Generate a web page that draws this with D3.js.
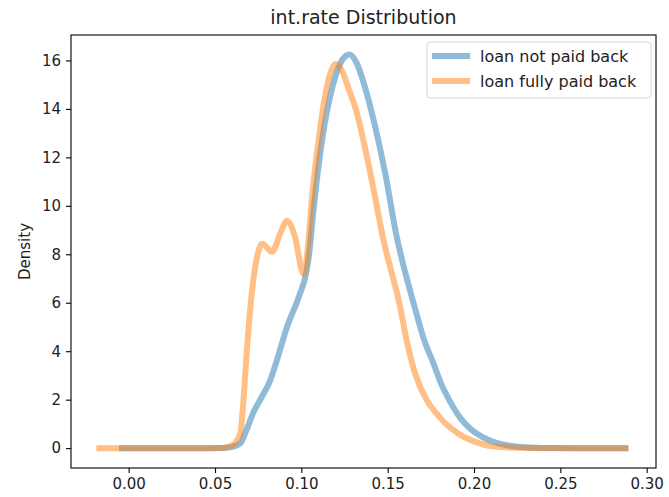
<!DOCTYPE html>
<html>
<head>
<meta charset="utf-8">
<script src="https://cdn.jsdelivr.net/npm/d3@7"></script>
<style>
  html, body { margin: 0; padding: 0; background: #fff; }
  svg text { font-family: "DejaVu Sans", sans-serif; fill: #222; }
</style>
</head>
<body>
<svg id="chart" width="669" height="497"></svg>
<script>
// ---- data ----
const title = "int.rate Distribution";
const yLabel = "Density";
const seriesNames = ["loan not paid back", "loan fully paid back"];
const seriesColors = ["#1f77b4", "#ff7f0e"];
const xTicks = [0.00, 0.05, 0.10, 0.15, 0.20, 0.25, 0.30];
const yTicks = [0, 2, 4, 6, 8, 10, 12, 14, 16];

const notPaidX = [-0.0056, 0.02, 0.045, 0.055, 0.060, 0.0647, 0.068, 0.072, 0.077, 0.082, 0.087, 0.0917, 0.0985, 0.103, 0.1045, 0.107, 0.112, 0.118, 0.1235, 0.1279, 0.132, 0.136, 0.140, 0.1486, 0.1553, 0.1607, 0.1659, 0.1707, 0.1765, 0.1810, 0.1857, 0.1920, 0.1977, 0.2050, 0.2112, 0.2190, 0.2266, 0.2400, 0.2600, 0.2894];
const notPaidY = [0, 0, 0, 0.005, 0.05, 0.2, 0.7, 1.44, 2.1, 2.8, 3.9, 5.0, 6.24, 7.3, 8.0, 9.8, 12.7, 14.9, 16.0, 16.25, 15.9, 15.1, 14.07, 11.33, 8.7, 7.1, 5.75, 4.55, 3.5, 2.65, 1.98, 1.25, 0.81, 0.45, 0.26, 0.12, 0.05, 0.01, 0, 0];

const paidX = [-0.0187, 0.02, 0.045, 0.054, 0.0575, 0.0615, 0.0647, 0.0665, 0.0686, 0.071, 0.0744, 0.0773, 0.083, 0.088, 0.0917, 0.096, 0.1013, 0.1042, 0.106, 0.110, 0.113, 0.1165, 0.1197, 0.124, 0.1275, 0.1312, 0.140, 0.1476, 0.1572, 0.161, 0.1659, 0.1726, 0.1780, 0.1823, 0.1880, 0.1938, 0.2000, 0.2073, 0.2150, 0.2226, 0.2400, 0.2600, 0.2894];
const paidY = [0, 0, 0, 0.01, 0.05, 0.2, 0.62, 2.0, 4.18, 6.2, 7.9, 8.44, 8.1, 8.9, 9.37, 8.8, 7.2, 8.58, 10.2, 12.7, 14.2, 15.4, 15.85, 15.5, 14.8, 14.07, 11.33, 8.58, 5.83, 4.45, 3.08, 1.98, 1.45, 1.1, 0.75, 0.47, 0.28, 0.12, 0.05, 0.02, 0, 0, 0];

// ---- layout ----
const svg = d3.select("#chart");
const M = { left: 71, right: 656, top: 35, bottom: 468 };

const x = d3.scaleLinear().domain([-0.0334, 0.3054]).range([M.left, M.right]);
const y = d3.scaleLinear().domain([-0.82, 17.05]).range([M.bottom, M.top]);

const series = [
  { name: seriesNames[0], color: seriesColors[0], xs: notPaidX, ys: notPaidY },
  { name: seriesNames[1], color: seriesColors[1], xs: paidX, ys: paidY }
];

const line = d3.line()
  .x(d => x(d[0]))
  .y(d => y(d[1]))
  .curve(d3.curveMonotoneX);

const plot = svg.append("g");
series.forEach(s => {
  const pts = s.xs.map((v, i) => [v, s.ys[i]]);
  plot.append("path")
    .attr("d", line(pts))
    .attr("fill", "none")
    .attr("stroke", s.color)
    .attr("stroke-opacity", 0.5)
    .attr("stroke-width", 6)
    .attr("stroke-linejoin", "round")
    .attr("stroke-linecap", "butt");
});

// ---- axes ----
const xAxis = d3.axisBottom(x).tickValues(xTicks).tickFormat(d3.format(".2f")).tickSize(5).tickPadding(5);
const yAxis = d3.axisLeft(y).tickValues(yTicks).tickFormat(d3.format("d")).tickSize(5).tickPadding(5);

const gx = svg.append("g").attr("transform", `translate(0,${M.bottom})`).call(xAxis);
const gy = svg.append("g").attr("transform", `translate(${M.left},0)`).call(yAxis);
[gx, gy].forEach(g => {
  g.select(".domain").remove();
  g.selectAll(".tick line").attr("stroke", "#000").attr("stroke-width", 1.1);
  g.selectAll(".tick text").style("font-size", "15px").style("fill", "#222");
});

// frame
svg.append("rect")
  .attr("x", M.left).attr("y", M.top)
  .attr("width", M.right - M.left).attr("height", M.bottom - M.top)
  .attr("fill", "none").attr("stroke", "#000").attr("stroke-width", 1.1);

// title
svg.append("text")
  .attr("x", (M.left + M.right) / 2).attr("y", 24)
  .attr("text-anchor", "middle")
  .style("font-size", "19px")
  .text(title);

// y label
svg.append("text")
  .attr("transform", `translate(30,${(M.top + M.bottom) / 2}) rotate(-90)`)
  .attr("text-anchor", "middle")
  .style("font-size", "15px")
  .text(yLabel);

// ---- legend ----
const lg = svg.append("g");
const lgX = 427, lgY = 42, lgW = 224, lgH = 56;
lg.append("rect")
  .attr("x", lgX).attr("y", lgY).attr("width", lgW).attr("height", lgH)
  .attr("rx", 3).attr("fill", "#fff").attr("fill-opacity", 0.8)
  .attr("stroke", "#d6d6d6").attr("stroke-width", 1);
series.forEach((s, i) => {
  const cy = lgY + 14 + i * 25;
  lg.append("line")
    .attr("x1", lgX + 5).attr("x2", lgX + 43)
    .attr("y1", cy).attr("y2", cy)
    .attr("stroke", s.color).attr("stroke-opacity", 0.5).attr("stroke-width", 6);
  lg.append("text")
    .attr("x", lgX + 53).attr("y", cy)
    .attr("dy", "0.35em")
    .style("font-size", "16px")
    .text(s.name);
});
</script>
</body>
</html>
